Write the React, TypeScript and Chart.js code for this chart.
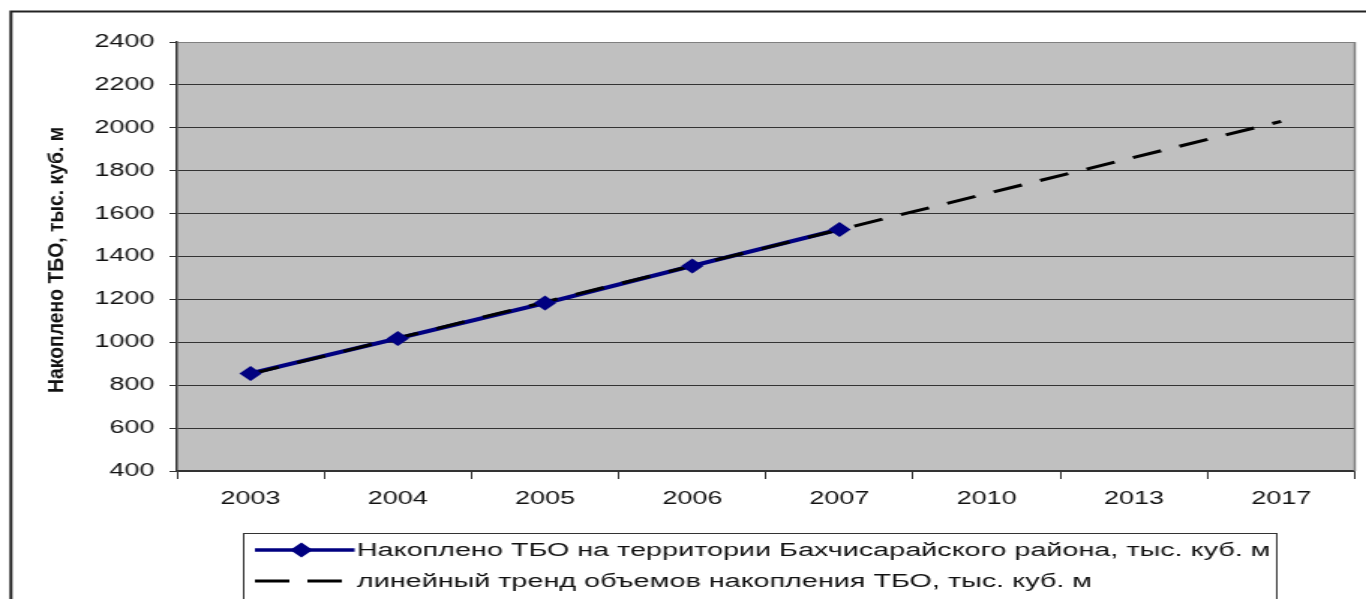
import React, { useEffect, useRef } from 'react';
import { Chart, registerables } from 'chart.js';

Chart.register(...registerables);

// ---- data ----
const categories = ['2003', '2004', '2005', '2006', '2007', '2010', '2013', '2017'];
const accumulated = [855, 1018, 1183, 1356, 1526, null, null, null];
const trend = [852, 1020, 1188, 1357, 1525, 1693, 1862, 2030];
const yMin = 400;
const yMax = 2400;
const yStep = 200;
const seriesLabel = 'Накоплено ТБО на территории Бахчисарайского района, тыс. куб. м';
const trendLabel = 'линейный тренд объемов накопления ТБО, тыс. куб. м';
const yTitle = 'Накоплено ТБО, тыс. куб. м';

// ---- look ----
const RW = 911; // render width; canvas is stretched to 1366 like the original picture
const RH = 599;
const FONT = '"Liberation Sans", Arial, sans-serif';
const BLUE = '#000080';

const decor = {
  id: 'decor',
  beforeDraw(chart: any) {
    const { ctx, chartArea: a } = chart;
    ctx.save();
    ctx.fillStyle = '#ffffff';
    ctx.fillRect(0, 0, chart.width, chart.height);
    ctx.fillStyle = '#c0c0c0';
    ctx.fillRect(a.left, a.top, a.right - a.left, a.bottom - a.top);
    ctx.strokeStyle = '#222';
    ctx.lineWidth = 2;
    ctx.beginPath();
    ctx.moveTo(7.3, chart.height + 5);
    ctx.lineTo(7.3, 11.5);
    ctx.lineTo(chart.width + 5, 11.5);
    ctx.stroke();
    ctx.restore();
  },
  beforeDatasetsDraw(chart: any) {
    const { ctx, chartArea: a } = chart;
    ctx.save();
    ctx.strokeStyle = '#808080';
    ctx.lineWidth = 1.5;
    ctx.beginPath();
    ctx.moveTo(a.right, a.top);
    ctx.lineTo(a.right, a.bottom);
    ctx.stroke();
    ctx.restore();
  },
  afterDraw(chart: any) {
    const { ctx } = chart;
    // y axis title
    ctx.save();
    ctx.fillStyle = '#111';
    ctx.font = 'bold 14px ' + FONT;
    const tw = ctx.measureText(yTitle).width;
    ctx.translate(38, 260);
    ctx.rotate(-Math.PI / 2);
    ctx.scale(266 / tw, 1);
    ctx.textAlign = 'center';
    ctx.textBaseline = 'middle';
    ctx.fillText(yTitle, 0, 0);
    ctx.restore();

    // legend
    ctx.save();
    ctx.strokeStyle = '#333';
    ctx.lineWidth = 1;
    ctx.strokeRect(162.5, 533.5, 689, 100);
    const x0 = 170;
    const x1 = 236.5;
    const r1 = 550;
    const r2 = 581;
    ctx.strokeStyle = BLUE;
    ctx.lineWidth = 3.5;
    ctx.beginPath();
    ctx.moveTo(x0, r1);
    ctx.lineTo(x1, r1);
    ctx.stroke();
    ctx.fillStyle = BLUE;
    ctx.beginPath();
    ctx.moveTo(201, r1 - 7.5);
    ctx.lineTo(201 + 7.5, r1);
    ctx.lineTo(201, r1 + 7.5);
    ctx.lineTo(201 - 7.5, r1);
    ctx.closePath();
    ctx.fill();
    ctx.strokeStyle = '#000';
    ctx.lineWidth = 3;
    ctx.beginPath();
    ctx.moveTo(x0, r2);
    ctx.lineTo(x0 + 23, r2);
    ctx.moveTo(x0 + 35, r2);
    ctx.lineTo(x0 + 58, r2);
    ctx.stroke();
    ctx.fillStyle = '#111';
    ctx.font = '19.2px ' + FONT;
    ctx.textAlign = 'left';
    ctx.textBaseline = 'middle';
    ctx.fillText(seriesLabel, 238, r1 + 1);
    ctx.fillText(trendLabel, 238, r2 + 1);
    ctx.restore();
  },
};

export default function App() {
  const ref = useRef<HTMLCanvasElement | null>(null);

  useEffect(() => {
    if (!ref.current) return;
    const chart = new Chart(ref.current, {
      type: 'line',
      data: {
        labels: categories,
        datasets: [
          {
            label: seriesLabel,
            data: accumulated,
            borderColor: BLUE,
            backgroundColor: BLUE,
            borderWidth: 4,
            pointRadius: 0,
            order: 2,
          },
          {
            label: trendLabel,
            data: trend,
            borderColor: '#000',
            borderWidth: 3,
            borderDash: [20, 13],
            borderCapStyle: 'butt',
            pointRadius: 0,
            order: 1,
          },
          {
            label: seriesLabel,
            data: accumulated,
            showLine: false,
            pointStyle: 'rectRot',
            pointRadius: 7.5,
            pointBackgroundColor: BLUE,
            pointBorderColor: BLUE,
            pointBorderWidth: 0,
            order: 0,
          },
        ],
      },
      options: {
        responsive: false,
        animation: false,
        devicePixelRatio: 1,
        layout: { padding: { left: 0, top: 42, right: 6, bottom: 88 } },
        plugins: {
          legend: { display: false },
          tooltip: { enabled: false },
          title: { display: false },
        },
        scales: {
          x: {
            offset: true,
            afterFit(scale: any) {
              scale.height = 40;
            },
            grid: {
              offset: true,
              drawOnChartArea: false,
              drawTicks: true,
              tickLength: 8,
              tickColor: '#333',
            },
            border: { display: true, color: '#333', width: 1.5 },
            ticks: {
              color: '#111',
              padding: 9,
              font: { family: FONT, size: 18 },
              maxRotation: 0,
              autoSkip: false,
            },
          },
          y: {
            min: yMin,
            max: yMax,
            afterFit(scale: any) {
              scale.width = 118;
            },
            grid: {
              color: (c: any) => (c.tick && c.tick.value === yMax ? '#808080' : '#333'),
              lineWidth: 1,
              tickLength: 5,
              tickColor: '#333',
            },
            border: { display: true, color: '#333', width: 1.5 },
            ticks: {
              stepSize: yStep,
              color: '#111',
              padding: 10,
              font: { family: FONT, size: 18 },
              callback: (v: any) => String(v),
            },
          },
        },
      },
      plugins: [decor],
    } as any);
    return () => chart.destroy();
  }, []);

  return (
    <div style={{ position: 'absolute', left: 0, top: 0, width: 1366, height: 599, overflow: 'hidden', background: '#fff' }}>
      <canvas
        ref={ref}
        width={RW}
        height={RH}
        style={{ display: 'block', width: '1366px', height: '599px' }}
      />
    </div>
  );
}
